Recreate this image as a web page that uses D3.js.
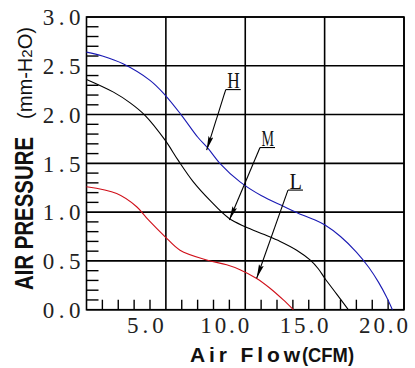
<!DOCTYPE html>
<html>
<head>
<meta charset="utf-8">
<script src="https://cdn.jsdelivr.net/npm/d3@7"></script>
<style>
  html, body { margin: 0; padding: 0; background: #fff; }
  svg { display: block; }
</style>
</head>
<body>
<svg id="chart" width="415" height="368"></svg>
<script>
// ---------- data ----------
const seriesNames = ["H", "M", "L"];
const seriesColors = ["#1a1ab4", "#000000", "#d0101a"];

const hFlow = [0, 1, 2.3, 4.0, 4.95, 6.0, 7.0, 7.67, 8.4, 9.67, 11.0, 12.4, 13.6, 14.4, 15.0, 16.0, 17.0, 17.8, 18.4, 18.9, 19.27];
const hPres = [2.64, 2.60, 2.52, 2.35, 2.20, 1.99, 1.77, 1.65, 1.50, 1.31, 1.17, 1.06, 0.97, 0.92, 0.87, 0.75, 0.59, 0.43, 0.28, 0.13, 0];

const mFlow = [0, 1.7, 2.75, 3.7, 4.94, 5.78, 6.73, 7.78, 8.95, 10.0, 11.2, 12.2, 13.24, 14.08, 14.6, 15.02, 15.76, 16.49];
const mPres = [2.36, 2.23, 2.12, 1.99, 1.74, 1.53, 1.31, 1.12, 0.94, 0.85, 0.77, 0.70, 0.61, 0.51, 0.42, 0.32, 0.16, 0];

const lFlow = [0, 1.9, 3.16, 3.9, 4.94, 5.89, 7.57, 8.83, 9.67, 10.72, 11.56, 12.4, 13.03];
const lPres = [1.26, 1.19, 1.055, 0.92, 0.75, 0.61, 0.51, 0.46, 0.41, 0.32, 0.22, 0.10, 0];

// annotation: label, label anchor (flow, pressure), arrow tip (flow, pressure)
const annLabels = ["H", "M", "L"];
const annAnchorFlow = [8.77, 10.93, 12.69];
const annAnchorPres = [2.256, 1.662, 1.226];
const annTipFlow = [7.57, 9.0, 10.72];
const annTipPres = [1.636, 0.919, 0.322];

const xTicks = [5, 10, 15, 20];
const xTickLabels = ["5.0", "10.0", "15.0", "20.0"];
const yTicks = [0, 0.5, 1.0, 1.5, 2.0, 2.5, 3.0];
const yTickLabels = ["0.0", "0.5", "1.0", "1.5", "2.0", "2.5", "3.0"];
const xMinor = d3.range(1, 20, 1).filter(v => v % 5 !== 0);
const yMinor = d3.range(1, 30, 1).filter(v => v % 5 !== 0).map(v => v / 10);

const xTitleA = "Air Flow";
const xTitleB = "(CFM)";
const yTitleA = "AIR PRESSURE";
const yTitleB = ["(mm-H", "2", "O)"];

// ---------- layout ----------
const svg = d3.select("#chart");
const L = 86.5, R = 404, T = 17, B = 309.7;
const x = d3.scaleLinear().domain([0, 20]).range([L, R]);
const y = d3.scaleLinear().domain([0, 3]).range([B, T]);

const g = svg.append("g");

// gridlines
g.selectAll("line.vgrid").data(xTicks).join("line")
  .attr("class", "vgrid")
  .attr("x1", d => x(d)).attr("x2", d => x(d))
  .attr("y1", T).attr("y2", B)
  .attr("stroke", "#000").attr("stroke-width", 1.6);
g.selectAll("line.hgrid").data(yTicks).join("line")
  .attr("class", "hgrid")
  .attr("x1", L).attr("x2", R)
  .attr("y1", d => y(d)).attr("y2", d => y(d))
  .attr("stroke", "#000").attr("stroke-width", 1.6);

// frame
g.append("rect").attr("x", L).attr("y", T)
  .attr("width", R - L).attr("height", B - T)
  .attr("fill", "none").attr("stroke", "#000").attr("stroke-width", 1.6);

// minor ticks
g.selectAll("line.xminor").data(xMinor).join("line")
  .attr("class", "xminor")
  .attr("x1", d => x(d)).attr("x2", d => x(d))
  .attr("y1", B).attr("y2", B - 10)
  .attr("stroke", "#000").attr("stroke-width", 1.4);
g.selectAll("line.yminor").data(yMinor).join("line")
  .attr("class", "yminor")
  .attr("x1", L).attr("x2", L + 12)
  .attr("y1", d => y(d)).attr("y2", d => y(d))
  .attr("stroke", "#000").attr("stroke-width", 1.4);

// axes (labels only) using d3 axes
const yAxis = d3.axisLeft(y).tickValues(yTicks)
  .tickFormat((d, i) => yTickLabels[i]).tickSize(0).tickPadding(6);
const yAx = svg.append("g").attr("transform", `translate(${L},0)`).call(yAxis);
yAx.select(".domain").remove();
yAx.selectAll("text")
  .attr("font-family", "'Liberation Serif', serif")
  .attr("font-size", 23)
  .attr("fill", "#222")
  .attr("dy", "0.34em")
  .attr("textLength", (d, i) => yTickLabels[i].length * 12.6)
  .attr("lengthAdjust", "spacing");

const xAxis = d3.axisBottom(x).tickValues(xTicks)
  .tickFormat((d, i) => xTickLabels[i]).tickSize(0).tickPadding(7);
const xAx = svg.append("g").attr("transform", `translate(0,${B})`).call(xAxis);
xAx.select(".domain").remove();
xAx.selectAll("text")
  .attr("font-family", "'Liberation Serif', serif")
  .attr("font-size", 23)
  .attr("fill", "#222")
  .attr("dx", -21)
  .attr("dy", "0.72em")
  .attr("textLength", (d, i) => xTickLabels[i].length * 12.2)
  .attr("lengthAdjust", "spacing");

// curves
const series = [
  { name: seriesNames[0], color: seriesColors[0], flow: hFlow, pres: hPres },
  { name: seriesNames[1], color: seriesColors[1], flow: mFlow, pres: mPres },
  { name: seriesNames[2], color: seriesColors[2], flow: lFlow, pres: lPres }
];
const line = d3.line().x(d => x(d[0])).y(d => y(d[1])).curve(d3.curveCatmullRom.alpha(0.5));
g.selectAll("path.curve").data(series).join("path")
  .attr("class", "curve")
  .attr("d", s => line(s.flow.map((f, i) => [f, s.pres[i]])))
  .attr("fill", "none")
  .attr("stroke", s => s.color)
  .attr("stroke-width", 1.1);

// annotations
const defs = svg.append("defs");
defs.append("marker")
  .attr("id", "arr").attr("viewBox", "0 0 14 6")
  .attr("refX", 14).attr("refY", 3)
  .attr("markerWidth", 14).attr("markerHeight", 6)
  .attr("markerUnits", "userSpaceOnUse")
  .attr("orient", "auto")
  .append("path").attr("d", "M0,0.5 L14,3 L0,5.5 L2,3 Z").attr("fill", "#000");

annLabels.forEach((lab, i) => {
  const ax = x(annAnchorFlow[i]), ay = y(annAnchorPres[i]);
  const tx = x(annTipFlow[i]), ty = y(annTipPres[i]);
  svg.append("line")
    .attr("x1", ax).attr("y1", ay).attr("x2", ax + 15).attr("y2", ay)
    .attr("stroke", "#000").attr("stroke-width", 1.1);
  svg.append("line")
    .attr("x1", ax).attr("y1", ay).attr("x2", tx).attr("y2", ty)
    .attr("stroke", "#000").attr("stroke-width", 1.1)
    .attr("marker-end", "url(#arr)");
  svg.append("text")
    .attr("x", ax + 1.5).attr("y", ay - 1.5)
    .attr("font-family", "'Liberation Serif', serif")
    .attr("font-size", 23)
    .attr("fill", "#111")
    .attr("textLength", 12.5)
    .attr("lengthAdjust", "spacingAndGlyphs")
    .text(lab);
});

// axis titles
svg.append("text")
  .attr("x", 190).attr("y", 362)
  .attr("font-family", "Arimo, 'Liberation Sans', Arial, sans-serif")
  .attr("font-weight", "bold").attr("font-size", 21).attr("fill", "#111")
  .attr("textLength", 110).attr("lengthAdjust", "spacing")
  .text(xTitleA);
svg.append("text")
  .attr("x", 302).attr("y", 362)
  .attr("font-family", "Arimo, 'Liberation Sans', Arial, sans-serif")
  .attr("font-weight", "bold").attr("font-size", 21).attr("fill", "#111")
  .attr("textLength", 52).attr("lengthAdjust", "spacingAndGlyphs")
  .text(xTitleB);

const yt = svg.append("g").attr("transform", "translate(33,0) rotate(-90)");
yt.append("text")
  .attr("x", -290).attr("y", 0)
  .attr("font-family", "Arimo, 'Liberation Sans', Arial, sans-serif")
  .attr("font-weight", "bold").attr("font-size", 26).attr("fill", "#111")
  .attr("textLength", 153).attr("lengthAdjust", "spacingAndGlyphs")
  .text(yTitleA);
const yt2 = yt.append("text")
  .attr("x", -119).attr("y", -1)
  .attr("font-family", "Arimo, 'Liberation Sans', Arial, sans-serif")
  .attr("font-size", 20).attr("fill", "#111")
  .attr("textLength", 92).attr("lengthAdjust", "spacingAndGlyphs");
yt2.append("tspan").text(yTitleB[0]);
yt2.append("tspan").attr("font-size", 15).text(yTitleB[1]);
yt2.append("tspan").text(yTitleB[2]);
</script>
</body>
</html>
